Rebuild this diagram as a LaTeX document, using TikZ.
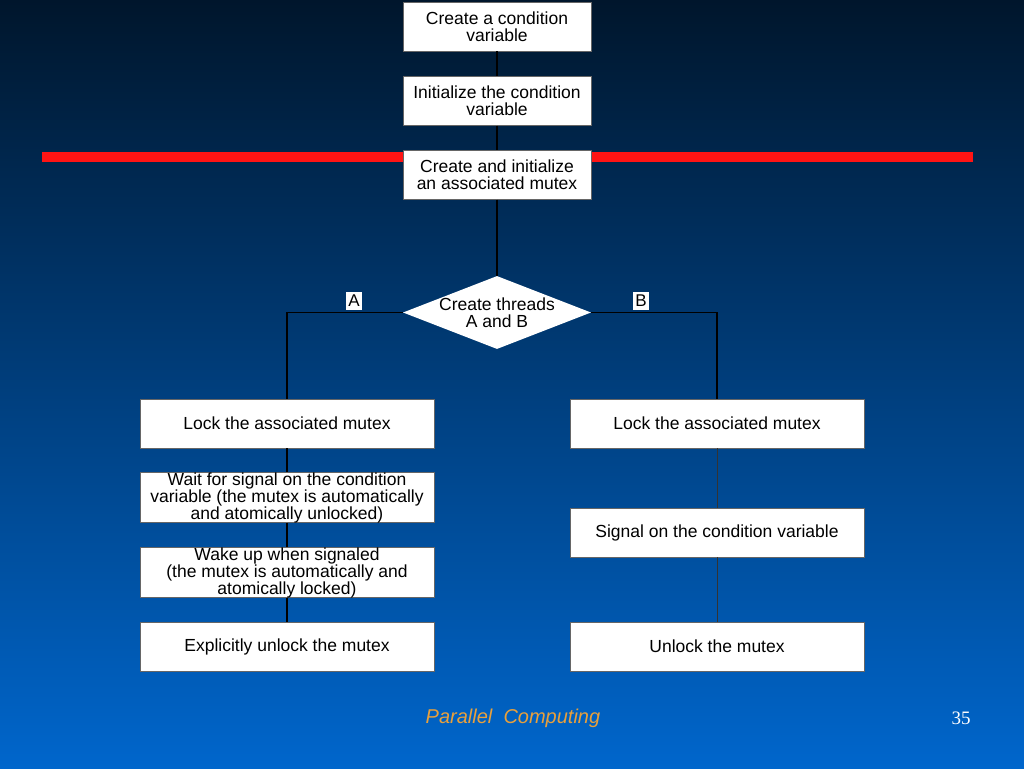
\documentclass[tikz,border=0pt]{standalone}
\usepackage{fontspec}
\setmainfont{Liberation Sans}
\newfontfamily\serif{Liberation Serif}
\usetikzlibrary{shapes.geometric}
\definecolor{bgtop}{RGB}{0,22,44}
\definecolor{bgmid}{RGB}{0,72,145}
\definecolor{bgbot}{RGB}{0,102,204}
\definecolor{barred}{RGB}{255,20,20}
\definecolor{footorange}{RGB}{232,160,60}
\tikzset{
  stepbox/.style={draw=black!60, fill=white, minimum height=49pt, align=center, inner sep=0pt, font=\fontsize{17.5}{17}\selectfont},
  topbox/.style={stepbox, minimum width=188pt},
  colbox/.style={stepbox, minimum width=294pt},
  decide/.style={diamond, fill=white, minimum width=188pt, minimum height=73pt, aspect=2.6, inner sep=-14pt, align=center, font=\fontsize{17.5}{17}\selectfont},
  tag/.style={fill=white, inner sep=1.5pt, minimum width=16pt, minimum height=18pt, font=\fontsize{17}{17}\selectfont},
  flow/.style={draw=black, line width=1.5pt},
  thinflow/.style={draw=black!80, line width=0.9pt}
}
\begin{document}
\begin{tikzpicture}[x=1pt, y=-1pt]
  \shade[top color=bgtop, middle color=bgmid, bottom color=bgbot, shading angle=0] (0,0) rectangle (1024,768);
  \useasboundingbox (0,0) rectangle (1024,768);
  % red bar behind the mutex box
  \fill[barred] (42,152) rectangle (973,162);
  % top chain
  \node[topbox] (create) at (497,26.5) {Create a condition\\variable};
  \node[topbox] (init) at (497,101) {Initialize the condition\\variable};
  \node[topbox] (mutex) at (497,175) {Create and initialize\\an associated mutex};
  \node[decide] (threads) at (497,312.5) {Create threads\\A and B};
  \node[tag] (tagA) at (354,301) {A};
  \node[tag] (tagB) at (641,301) {B};
  % thread A
  \node[colbox] (lockA) at (287,423.5) {Lock the associated mutex};
  \node[colbox] (waitA) at (287,497.5) {Wait for signal on the condition\\variable (the mutex is automatically\\and atomically unlocked)};
  \node[colbox] (wakeA) at (287,572.5) {Wake up when signaled\\(the mutex is automatically and\\atomically locked)};
  \node[colbox] (unlockA) at (287,646.5) {Explicitly unlock the mutex};
  % thread B
  \node[colbox] (lockB) at (717,423.5) {Lock the associated mutex};
  \node[colbox] (signalB) at (717,532.5) {Signal on the condition variable};
  \node[colbox] (unlockB) at (717,646.5) {Unlock the mutex};
  % connectors
  \draw[flow] (create) -- (init);
  \draw[flow] (init) -- (mutex);
  \draw[flow] (mutex) -- (threads);
  \draw[flow] (threads.west) -| (lockA.north);
  \draw[flow] (threads.east) -| (lockB.north);
  \draw[flow] (lockA) -- (waitA);
  \draw[flow] (waitA) -- (wakeA);
  \draw[flow] (wakeA) -- (unlockA);
  \draw[thinflow] (lockB) -- (signalB);
  \draw[thinflow] (signalB) -- (unlockB);
  % footer
  \node[text=footorange, font=\fontsize{20}{22}\selectfont\itshape] (footer) at (513,718) {Parallel\ \ Computing};
  \node[text=white, font=\serif\fontsize{19}{20}\selectfont] (pageno) at (961,718) {35};
\end{tikzpicture}
\end{document}
